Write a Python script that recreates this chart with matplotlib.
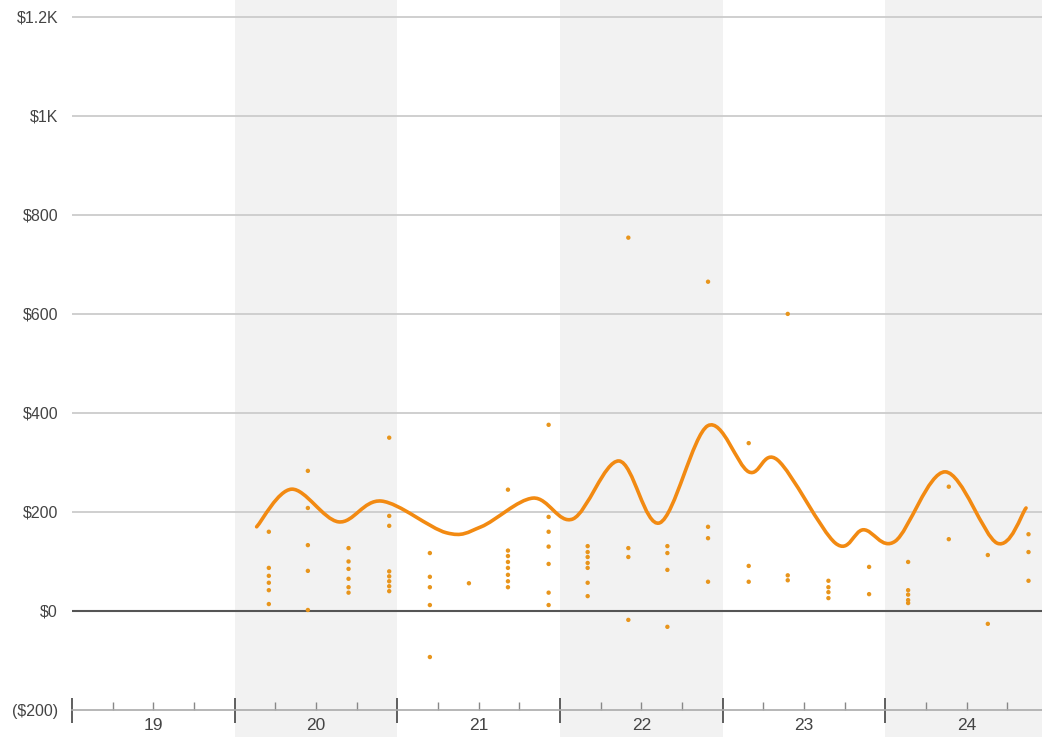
import numpy as np
import matplotlib
matplotlib.use('Agg')
import matplotlib.pyplot as plt
from matplotlib.path import Path
from matplotlib.patches import PathPatch

plt.rcParams['font.family'] = ['Liberation Sans', 'DejaVu Sans']

# scatter columns (decimal year) and the values in each column
col_x = [2020.21, 2020.45, 2020.70, 2020.95, 2021.20, 2021.44, 2021.68, 2021.93,
         2022.17, 2022.42, 2022.66, 2022.91, 2023.16, 2023.40, 2023.65, 2023.90,
         2024.14, 2024.39, 2024.63, 2024.88]
col_vals = [
    [160, 87, 71, 57, 42, 14],
    [283, 208, 133, 81, 2],
    [127, 100, 85, 65, 48, 37],
    [350, 192, 172, 80, 70, 60, 50, 40],
    [117, 69, 48, 12, -93],
    [56],
    [245, 122, 111, 99, 87, 73, 60, 48],
    [376, 190, 160, 130, 95, 37, 12],
    [131, 119, 109, 97, 87, 57, 30],
    [754, 127, 109, -18],
    [131, 117, 83, -32],
    [665, 170, 147, 59],
    [339, 91, 59],
    [600, 72, 62],
    [61, 48, 38, 26],
    [89, 34],
    [99, 42, 33, 22, 16],
    [251, 145],
    [113, -26],
    [155, 119, 61],
]

# smoothed trend line (decimal year, value)
trend_x = [2020.135, 2020.350, 2020.638, 2020.902, 2021.301, 2021.515, 2021.834,
           2022.080, 2022.362, 2022.613, 2022.908, 2023.160, 2023.337, 2023.693,
           2023.865, 2024.061, 2024.368, 2024.687, 2024.865]
trend_y = [170, 246, 180, 222, 158, 170, 228, 186, 303, 178, 374, 281, 305,
           137, 164, 141, 281, 137, 208]

years = [2019, 2020, 2021, 2022, 2023, 2024]
year_labels = ['19', '20', '21', '22', '23', '24']
y_ticks = [-200, 0, 200, 400, 600, 800, 1000, 1200]
y_labels = ['($200)', '$0', '$200', '$400', '$600', '$800', '$1K', '$1.2K']

orange = '#f28a12'
dot = '#e8951c'


def smooth_path(xs, ys):
    """Catmull-Rom through the points, as cubic bezier path."""
    pts = np.column_stack((xs, ys)).astype(float)
    ext = np.vstack((pts[0], pts, pts[-1]))
    verts = [pts[0]]
    codes = [Path.MOVETO]
    for i in range(1, len(ext) - 2):
        p0, p1, p2, p3 = ext[i - 1], ext[i], ext[i + 1], ext[i + 2]
        verts += [p1 + (p2 - p0) / 6, p2 - (p3 - p1) / 6, p2]
        codes += [Path.CURVE4] * 3
    return Path(verts, codes)


fig = plt.figure(figsize=(10.42, 7.37), dpi=100)
ax = fig.add_axes([72 / 1042, 27 / 737, 970 / 1042, 710 / 737])
ax.set_xlim(2019.012, 2024.963)
ax.set_ylim(-200, 1234)

# alternating year bands
for yr in [2020, 2022, 2024]:
    ax.axvspan(yr, yr + 1, ymin=-0.05, ymax=1, color='#f2f2f2', lw=0,
               zorder=0, clip_on=False)

# grid
for v in y_ticks[2:]:
    ax.axhline(v, color='#cccccc', lw=1.3, zorder=1)
ax.axhline(0, color='#555555', lw=1.5, zorder=1)

# scatter
xs = [x for x, vals in zip(col_x, col_vals) for _ in vals]
vs = [v for vals in col_vals for v in vals]
ax.scatter(xs, vs, s=10, color=dot, edgecolors='none', zorder=3)

# trend line
ax.add_patch(PathPatch(smooth_path(trend_x, trend_y), fill=False,
                       edgecolor=orange, lw=2.6, zorder=4,
                       capstyle='round', joinstyle='round'))

for s in ['top', 'right', 'left']:
    ax.spines[s].set_visible(False)
ax.spines['bottom'].set_color('#aaaaaa')
ax.spines['bottom'].set_linewidth(1.2)

ax.set_yticks(y_ticks)
ax.set_yticklabels(y_labels)
ax.tick_params(axis='y', length=0, pad=10, labelsize=11.5,
               labelcolor='#444444')

ax.set_xticks(years)
ax.set_xticklabels([''] * len(years))
ax.tick_params(axis='x', which='major', direction='inout', length=18,
               width=1.2, color='#444444')
minor = [y + q for y in years for q in (0.25, 0.5, 0.75)]
ax.set_xticks(minor, minor=True)
ax.set_xticklabels([year_labels[i // 3] if i % 3 == 1 else ''
                    for i in range(len(minor))], minor=True)
ax.tick_params(axis='x', which='minor', direction='in', length=6, width=1,
               color='#888888', pad=6, labelsize=12.5, labelcolor='#444444')

fig.savefig('out.png', dpi=100)
